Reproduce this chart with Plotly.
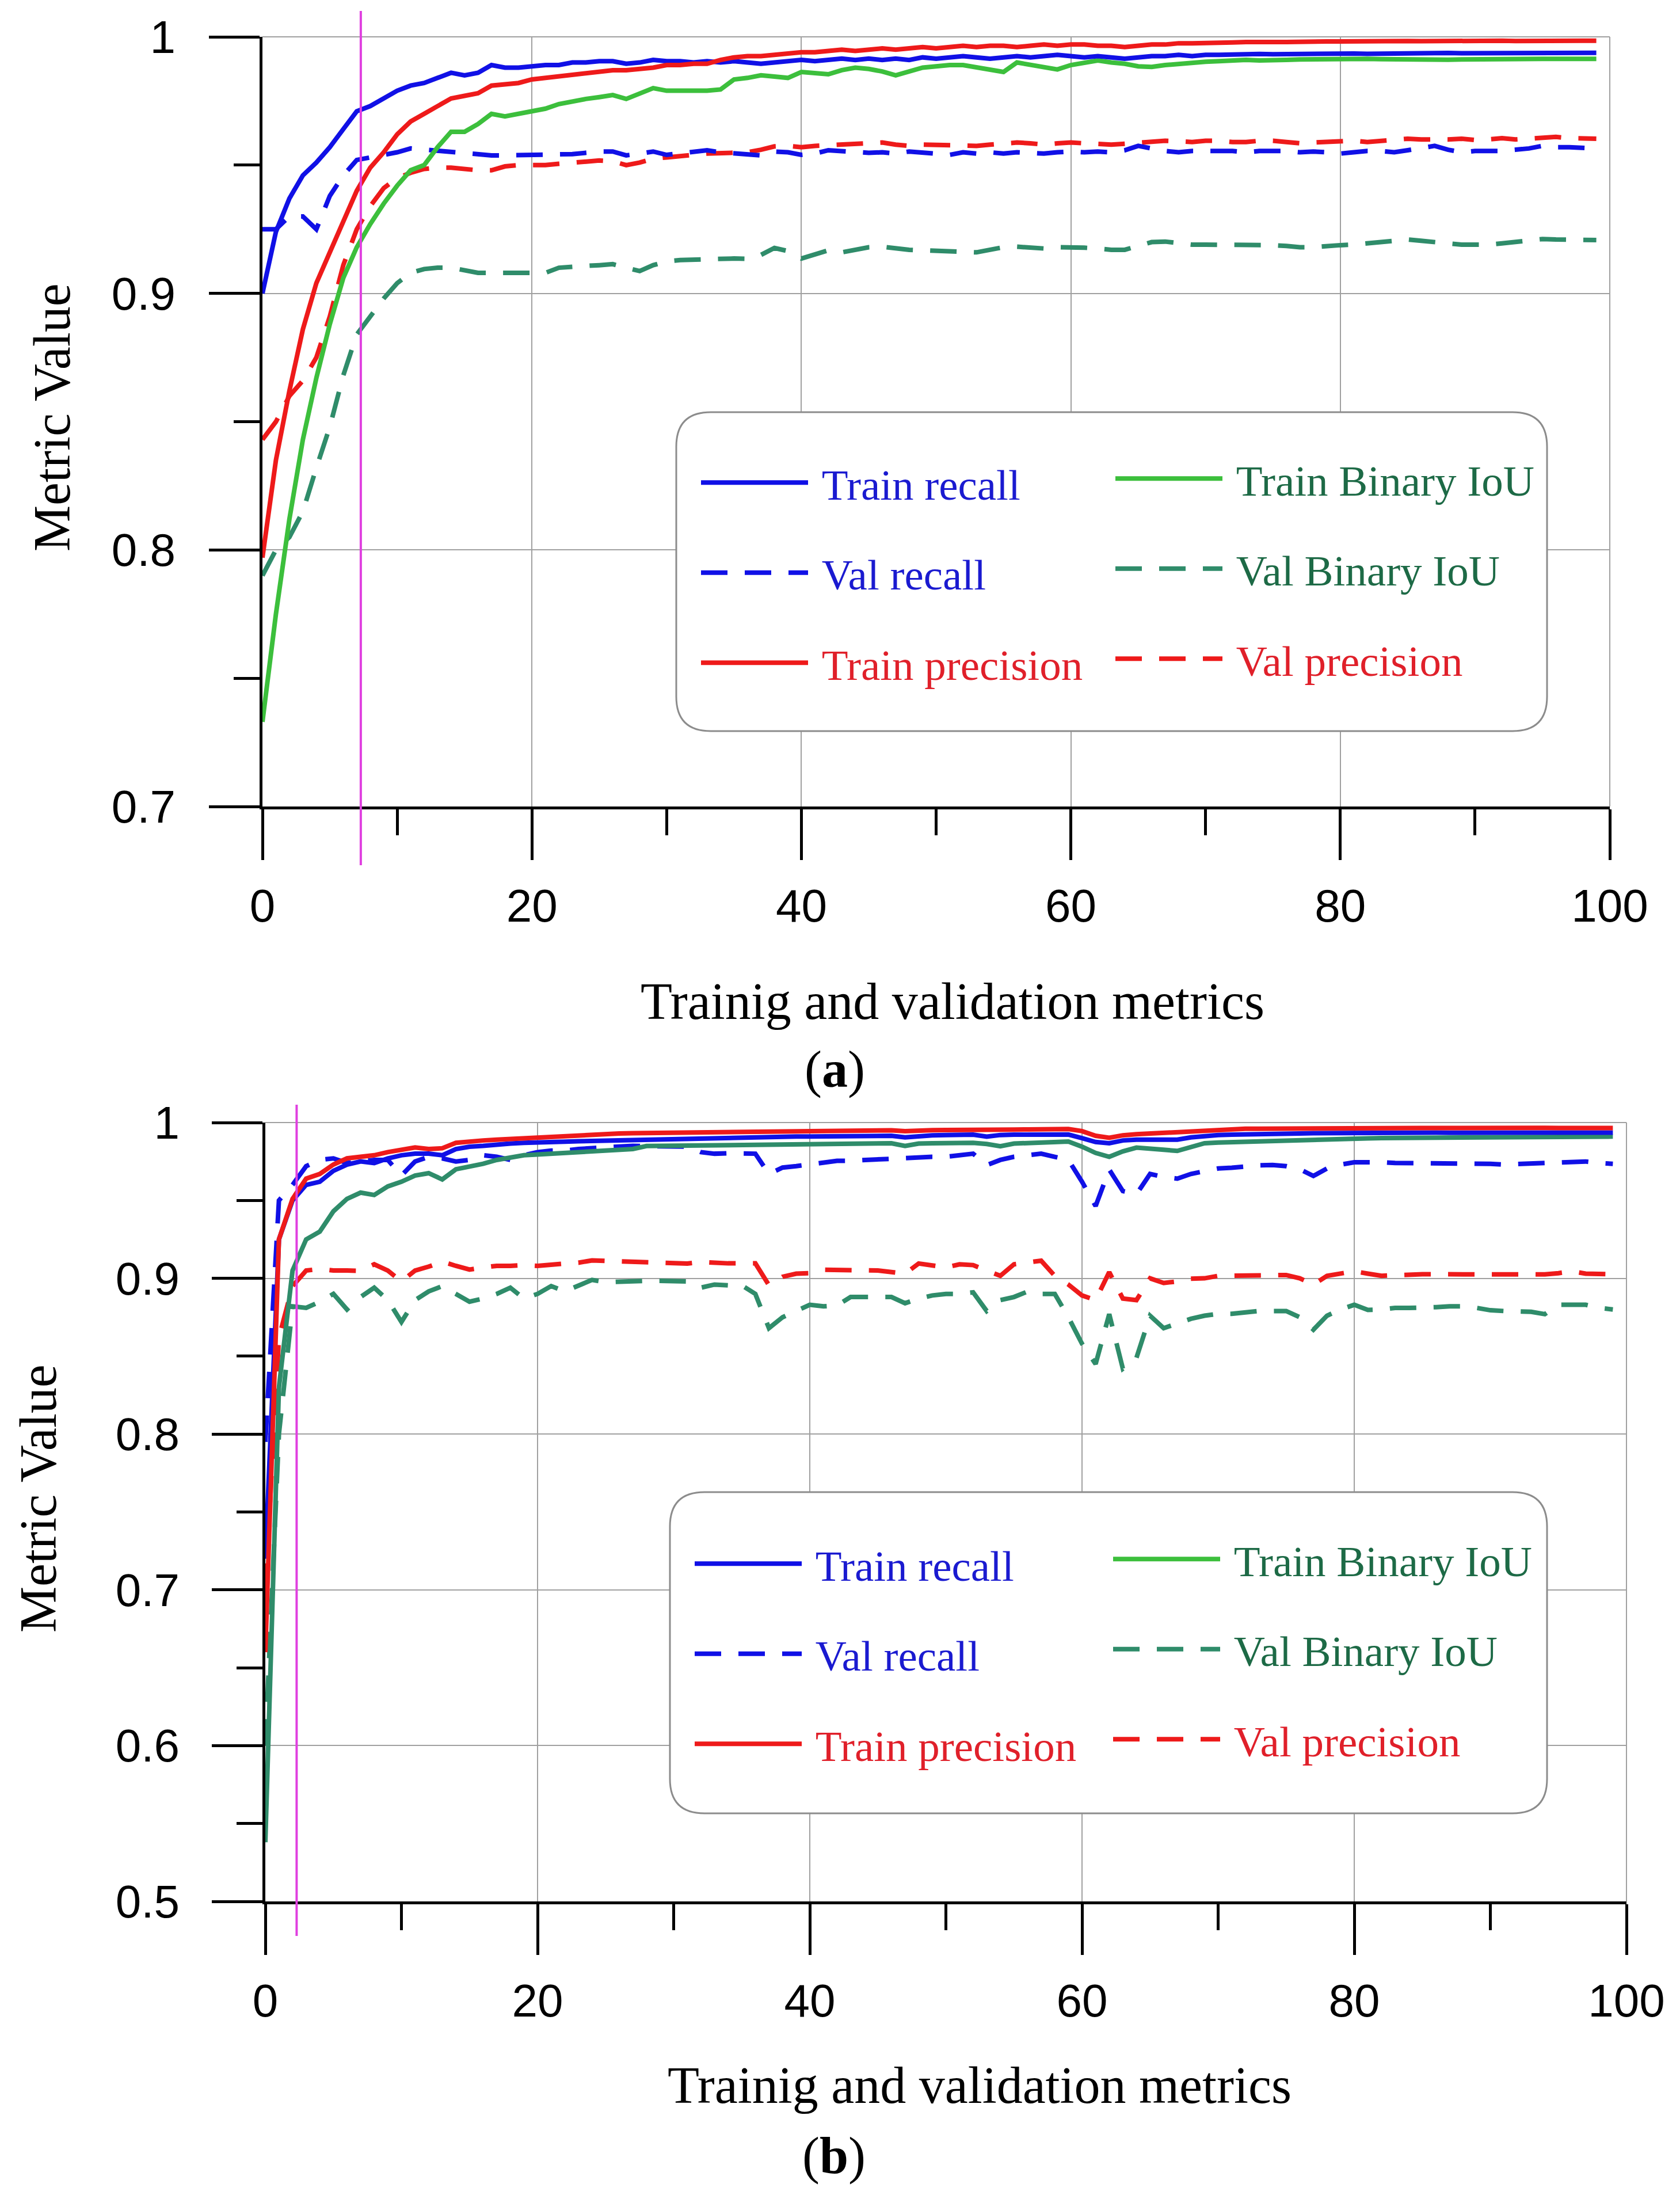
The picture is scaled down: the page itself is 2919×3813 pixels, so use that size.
import plotly.graph_objects as go

W, H = 2919, 3813

EPOCHS = list(range(100))

# ---- (a) ----
A_TRAIN_RECALL = [
    0.900, 0.924, 0.937, 0.946, 0.951, 0.957, 0.964, 0.971, 0.973, 0.976,
    0.979, 0.981, 0.982, 0.984, 0.986, 0.985, 0.986, 0.989, 0.988, 0.988,
    0.9885, 0.989, 0.989, 0.990, 0.990, 0.9905, 0.9905, 0.9895, 0.990, 0.991,
    0.9905, 0.9905, 0.990, 0.9905, 0.990, 0.9905, 0.990, 0.9895, 0.990, 0.9905,
    0.991, 0.9905, 0.991, 0.9915, 0.991, 0.9915, 0.991, 0.9915, 0.991, 0.992,
    0.9915, 0.992, 0.9925, 0.992, 0.9915, 0.992, 0.9925, 0.992, 0.9925, 0.993,
    0.9925, 0.992, 0.9925, 0.992, 0.9915, 0.992, 0.9925, 0.9925, 0.993, 0.9925,
    0.993, 0.993, 0.9932, 0.993, 0.9933, 0.9932, 0.9933, 0.9932, 0.9933, 0.9935,
    0.9933, 0.9935, 0.9934, 0.9935, 0.9936, 0.9935, 0.9936, 0.9935, 0.9937, 0.9936,
    0.9936, 0.9937, 0.9936, 0.9938, 0.9937, 0.9938, 0.9937, 0.9938, 0.9938, 0.9938,
]
A_VAL_RECALL = [
    0.925, 0.925, 0.930, 0.930, 0.925, 0.938, 0.946, 0.952, 0.953, 0.954,
    0.955, 0.9565, 0.956, 0.9555, 0.955, 0.9547, 0.954, 0.9538, 0.9538, 0.954,
    0.954, 0.9542, 0.9542, 0.9543, 0.955, 0.9553, 0.9553, 0.9538, 0.9545, 0.9553,
    0.954, 0.9545, 0.955, 0.9558, 0.955, 0.9547, 0.954, 0.9538, 0.9553, 0.955,
    0.954, 0.9545, 0.9558, 0.9555, 0.9553, 0.9548, 0.955, 0.9545, 0.9553, 0.955,
    0.9545, 0.954, 0.955, 0.9545, 0.955, 0.9545, 0.955, 0.9548, 0.9545, 0.955,
    0.9553, 0.955, 0.9553, 0.955, 0.9558, 0.9575, 0.9565, 0.9555, 0.955, 0.9555,
    0.9555, 0.9555, 0.9555, 0.955, 0.9555, 0.9555, 0.9555, 0.955, 0.9553, 0.955,
    0.9545, 0.955, 0.9555, 0.9555, 0.955, 0.9558, 0.9565, 0.9575, 0.956, 0.955,
    0.9555, 0.9555, 0.9555, 0.956, 0.9565, 0.9575, 0.957, 0.957, 0.9568, 0.9565,
]
A_TRAIN_PREC = [
    0.797, 0.835, 0.862, 0.886, 0.904, 0.916, 0.928, 0.940, 0.949, 0.955,
    0.962, 0.967, 0.970, 0.973, 0.976, 0.977, 0.978, 0.981, 0.9815, 0.982,
    0.9834, 0.984, 0.9845, 0.9855, 0.986, 0.9865, 0.987, 0.987, 0.9875, 0.988,
    0.989, 0.989, 0.9895, 0.9895, 0.991, 0.992, 0.9925, 0.9925, 0.993, 0.9935,
    0.994, 0.994, 0.9945, 0.995, 0.9945, 0.995, 0.9955, 0.995, 0.9955, 0.996,
    0.9955, 0.996, 0.9965, 0.996, 0.9965, 0.9965, 0.996, 0.9965, 0.997, 0.9965,
    0.997, 0.997, 0.9965, 0.9965, 0.996, 0.9965, 0.997, 0.997, 0.9975, 0.9975,
    0.9975, 0.9978, 0.9978, 0.998, 0.9978, 0.998, 0.998, 0.9982, 0.998, 0.9982,
    0.9982, 0.9983, 0.9982, 0.9983, 0.9983, 0.9984, 0.9983, 0.9984, 0.9983, 0.9984,
    0.9984, 0.9984, 0.9985, 0.9984, 0.9985, 0.9984, 0.9985, 0.9985, 0.9985, 0.9985,
]
A_VAL_PREC = [
    0.843, 0.850, 0.860, 0.866, 0.875, 0.891, 0.911, 0.925, 0.934, 0.941,
    0.945, 0.947, 0.9485, 0.949, 0.949, 0.9485, 0.948, 0.948, 0.9495, 0.950,
    0.950, 0.950, 0.9505, 0.951, 0.9515, 0.9518, 0.9515, 0.950, 0.951, 0.9525,
    0.953, 0.9533, 0.954, 0.9545, 0.9548, 0.9548, 0.955, 0.956, 0.9573, 0.9575,
    0.957, 0.9575, 0.9578, 0.958, 0.958, 0.9585, 0.9588, 0.958, 0.9575, 0.958,
    0.9578, 0.9575, 0.9573, 0.9575, 0.958, 0.9585, 0.9588, 0.9585, 0.958, 0.9585,
    0.9588, 0.9585, 0.9583, 0.958, 0.9583, 0.9588, 0.9593, 0.9595, 0.9593, 0.959,
    0.9595, 0.9595, 0.959, 0.959, 0.9595, 0.9595, 0.959, 0.9585, 0.9588, 0.959,
    0.9593, 0.9595, 0.959, 0.9595, 0.960, 0.9603, 0.960, 0.9598, 0.960, 0.9603,
    0.9598, 0.960, 0.9605, 0.960, 0.9603, 0.9608, 0.961, 0.9605, 0.9603, 0.9603,
]
A_TRAIN_IOU = [
    0.733, 0.775, 0.812, 0.843, 0.867, 0.888, 0.906, 0.918, 0.927, 0.935,
    0.942, 0.948, 0.950, 0.957, 0.963, 0.963, 0.966, 0.970, 0.969, 0.970,
    0.9713, 0.972, 0.9738, 0.975, 0.9758, 0.9765, 0.9773, 0.9758, 0.978, 0.980,
    0.979, 0.979, 0.9792, 0.979, 0.9795, 0.9834, 0.984, 0.985, 0.9845, 0.984,
    0.9863, 0.986, 0.9854, 0.987, 0.988, 0.9875, 0.9865, 0.985, 0.9865, 0.988,
    0.9885, 0.989, 0.989, 0.988, 0.987, 0.9863, 0.990, 0.989, 0.988, 0.9873,
    0.989, 0.990, 0.9908, 0.990, 0.9895, 0.9885, 0.9883, 0.989, 0.9895, 0.990,
    0.9903, 0.9905, 0.9908, 0.991, 0.9908, 0.9911, 0.991, 0.9912, 0.9913, 0.9914,
    0.9914, 0.9913, 0.9914, 0.9913, 0.9912, 0.9913, 0.9912, 0.9911, 0.9911, 0.9912,
    0.9913, 0.9912, 0.9913, 0.9914, 0.9913, 0.9914, 0.9914, 0.9915, 0.9914, 0.9914,
]
A_VAL_IOU = [
    0.790, 0.800, 0.805, 0.815, 0.832, 0.848, 0.868, 0.884, 0.891, 0.898,
    0.904, 0.908, 0.9095, 0.910, 0.910, 0.909, 0.908, 0.908, 0.9078, 0.908,
    0.908, 0.908, 0.910, 0.9105, 0.9107, 0.911, 0.9114, 0.910, 0.9087, 0.911,
    0.9125, 0.913, 0.9132, 0.9134, 0.9135, 0.9136, 0.9135, 0.915, 0.9177, 0.9165,
    0.9136, 0.915, 0.9168, 0.916, 0.917, 0.918, 0.9182, 0.9175, 0.917, 0.9168,
    0.9165, 0.9162, 0.916, 0.916, 0.917, 0.918, 0.9182, 0.918, 0.9175, 0.918,
    0.918, 0.9178, 0.9175, 0.917, 0.917, 0.9185, 0.920, 0.9202, 0.9195, 0.919,
    0.919, 0.919, 0.919, 0.919, 0.919, 0.9188, 0.9185, 0.918, 0.918, 0.9185,
    0.9188, 0.919, 0.9195, 0.920, 0.9205, 0.921, 0.9205, 0.920, 0.9195, 0.919,
    0.919, 0.919, 0.9195, 0.920, 0.9205, 0.9212, 0.921, 0.921, 0.921, 0.9208,
]

# ---- (b) ----
B_TRAIN_RECALL = [
    0.720, 0.925, 0.950, 0.960, 0.962, 0.969, 0.973, 0.975, 0.974, 0.977,
    0.979, 0.980, 0.980, 0.979, 0.983, 0.9845, 0.985, 0.986, 0.9865, 0.987,
    0.987, 0.9873, 0.9877, 0.988, 0.9882, 0.9885, 0.989, 0.9888, 0.9889, 0.989,
    0.9895, 0.9898, 0.990, 0.990, 0.9903, 0.9905, 0.9905, 0.9908, 0.991, 0.991,
    0.991, 0.991, 0.9912, 0.9915, 0.9915, 0.9913, 0.9915, 0.9905, 0.9915, 0.9918,
    0.992, 0.992, 0.9922, 0.991, 0.992, 0.9922, 0.9923, 0.9923, 0.9925, 0.9923,
    0.990, 0.9875, 0.9867, 0.9885, 0.989, 0.9888, 0.9885, 0.989, 0.9905, 0.9915,
    0.992, 0.9922, 0.9925, 0.9927, 0.9928, 0.993, 0.993, 0.9932, 0.9933, 0.9933,
    0.9934, 0.9933, 0.9934, 0.9934, 0.9935, 0.9934, 0.9935, 0.9934, 0.9935, 0.9935,
    0.9935, 0.9934, 0.9935, 0.9935, 0.9936, 0.9935, 0.9935, 0.9936, 0.9935, 0.9935,
]
B_VAL_RECALL = [
    0.795, 0.950, 0.960, 0.972, 0.976, 0.977, 0.974, 0.975, 0.976, 0.976,
    0.966, 0.975, 0.978, 0.977, 0.975, 0.976, 0.979, 0.978, 0.976, 0.979,
    0.981, 0.982, 0.982, 0.983, 0.9837, 0.9846, 0.9846, 0.985, 0.985, 0.9848,
    0.985, 0.9845, 0.981, 0.980, 0.9803, 0.9805, 0.980, 0.967, 0.9711, 0.972,
    0.973, 0.974, 0.9754, 0.9755, 0.976, 0.9765, 0.9768, 0.977, 0.9775, 0.978,
    0.978, 0.979, 0.980, 0.9727, 0.976, 0.978, 0.979, 0.980, 0.978, 0.976,
    0.962, 0.9464, 0.9698, 0.956, 0.954, 0.967, 0.965, 0.964, 0.967, 0.969,
    0.9705, 0.971, 0.972, 0.9725, 0.9727, 0.972, 0.970, 0.9657, 0.9705, 0.973,
    0.9745, 0.9748, 0.9745, 0.974, 0.974, 0.974, 0.974, 0.974, 0.974, 0.9738,
    0.9735, 0.973, 0.9733, 0.9735, 0.9738, 0.974, 0.9745, 0.975, 0.974, 0.9735,
]
B_TRAIN_PREC = [
    0.660, 0.925, 0.951, 0.964, 0.967, 0.973, 0.977, 0.978, 0.979, 0.981,
    0.9825, 0.984, 0.983, 0.9835, 0.987, 0.988, 0.9885, 0.989, 0.9895, 0.990,
    0.9905, 0.991, 0.9915, 0.992, 0.992, 0.9925, 0.993, 0.9932, 0.9933, 0.9935,
    0.9937, 0.9938, 0.994, 0.994, 0.9942, 0.9943, 0.9944, 0.9944, 0.9945, 0.9945,
    0.9945, 0.9946, 0.9947, 0.9948, 0.9948, 0.9949, 0.995, 0.9945, 0.995, 0.9951,
    0.9952, 0.9952, 0.9953, 0.9948, 0.9953, 0.9955, 0.9956, 0.9957, 0.9958, 0.9958,
    0.9945, 0.9915, 0.9902, 0.9918, 0.9925, 0.993, 0.9931, 0.9935, 0.9945, 0.9952,
    0.9955, 0.9958, 0.996, 0.996, 0.9961, 0.9962, 0.9962, 0.9963, 0.9963, 0.9964,
    0.9964, 0.9965, 0.9965, 0.9965, 0.9964, 0.9965, 0.9965, 0.9966, 0.9965, 0.9965,
    0.9965, 0.9966, 0.9965, 0.9965, 0.9966, 0.9965, 0.9966, 0.9966, 0.9965, 0.9965,
]
B_VAL_PREC = [
    0.700, 0.862, 0.895, 0.905, 0.906, 0.905, 0.905, 0.9048, 0.909, 0.905,
    0.898, 0.905, 0.9075, 0.9107, 0.908, 0.9056, 0.907, 0.908, 0.908, 0.9085,
    0.908, 0.909, 0.9095, 0.910, 0.9115, 0.9112, 0.911, 0.9103, 0.9103, 0.9103,
    0.910, 0.9095, 0.9105, 0.9098, 0.9096, 0.9096, 0.9096, 0.8956, 0.901, 0.903,
    0.9033, 0.9055, 0.9055, 0.9055, 0.9055, 0.905, 0.904, 0.903, 0.9095, 0.908,
    0.907, 0.909, 0.9085, 0.905, 0.9016, 0.909, 0.910, 0.9113, 0.9016, 0.896,
    0.889, 0.886, 0.904, 0.887, 0.886, 0.900, 0.897, 0.898, 0.8998, 0.900,
    0.9016, 0.9016, 0.9018, 0.902, 0.9021, 0.9021, 0.900, 0.896, 0.9016, 0.903,
    0.9045, 0.903, 0.9016, 0.902, 0.9026, 0.9026, 0.9026, 0.9026, 0.9026, 0.9026,
    0.9023, 0.902, 0.902, 0.902, 0.9025, 0.9033, 0.9045, 0.903, 0.9026, 0.9026,
]
B_TRAIN_IOU = [
    0.538, 0.830, 0.905, 0.925, 0.930, 0.943, 0.951, 0.955, 0.9535, 0.959,
    0.962, 0.966, 0.9675, 0.9635, 0.970, 0.9715, 0.9735, 0.976, 0.9775, 0.979,
    0.9795, 0.980, 0.9805, 0.981, 0.9815, 0.982, 0.9825, 0.983, 0.9849, 0.985,
    0.9852, 0.9855, 0.9856, 0.9856, 0.9858, 0.986, 0.986, 0.9862, 0.9862, 0.9863,
    0.9863, 0.9865, 0.9865, 0.9866, 0.9867, 0.9867, 0.9867, 0.985, 0.9865, 0.9867,
    0.9868, 0.9868, 0.987, 0.9862, 0.9848, 0.9865, 0.987, 0.9875, 0.988, 0.9878,
    0.9845, 0.9805, 0.978, 0.9815, 0.9839, 0.9835, 0.9825, 0.9818, 0.984, 0.9867,
    0.9872, 0.9875, 0.9877, 0.9878, 0.988, 0.9884, 0.9887, 0.989, 0.9892, 0.9895,
    0.9897, 0.9898, 0.990, 0.9901, 0.9902, 0.9903, 0.9904, 0.9904, 0.9905, 0.9906,
    0.9906, 0.9907, 0.9907, 0.9908, 0.9908, 0.9909, 0.9909, 0.991, 0.991, 0.991,
]
B_VAL_IOU = [
    0.600, 0.800, 0.882, 0.881, 0.885, 0.890, 0.880, 0.888, 0.894, 0.886,
    0.872, 0.886, 0.8916, 0.895, 0.890, 0.885, 0.887, 0.890, 0.894, 0.887,
    0.890, 0.895, 0.8916, 0.895, 0.899, 0.8975, 0.898, 0.8984, 0.8984, 0.8984,
    0.898, 0.898, 0.894, 0.896, 0.8955, 0.8955, 0.890, 0.868, 0.875, 0.879,
    0.883, 0.882, 0.8826, 0.888, 0.888, 0.888, 0.888, 0.884, 0.887, 0.889,
    0.890, 0.890, 0.891, 0.879, 0.886, 0.888, 0.8915, 0.890, 0.890, 0.875,
    0.858, 0.845, 0.877, 0.842, 0.849, 0.876, 0.868, 0.871, 0.874, 0.876,
    0.8772, 0.8772, 0.878, 0.879, 0.879, 0.879, 0.875, 0.867, 0.876, 0.880,
    0.883, 0.8797, 0.880, 0.881, 0.881, 0.881, 0.8815, 0.882, 0.882, 0.881,
    0.8795, 0.879, 0.879, 0.8785, 0.877, 0.883, 0.883, 0.883, 0.881, 0.880,
]

# epoch where the magenta marker sits in each panel
A_MARK = 7.3
B_MARK = 2.3

BLUE = '#1010e6'
RED = '#ee1a1a'
LIME = '#3cbf3c'
SEA = '#2f8c6a'
TXT_BLUE = '#1a1ad0'
TXT_GREEN = '#1d6a46'
TXT_RED = '#e0202a'
DASH = '46px,30px'
LW = 8

SANS = 'Liberation Sans'
SERIF = 'Liberation Serif'


def label(text, color):
    return '<span style="color:%s">&nbsp;%s</span>' % (color, text)


def px_x(p):
    return p / W


def px_y(p):
    return 1 - p / H


fig = go.Figure()


def add_panel(xa, ya, leg_l, leg_r, tr, vr, tp, vp, ti, vi, iou_color, dummy_iou):
    specs = [
        (vi, 'Val Binary IoU', SEA, DASH, leg_r, 2, TXT_GREEN),
        (vp, 'Val precision', RED, DASH, leg_r, 3, TXT_RED),
        (vr, 'Val recall', BLUE, DASH, leg_l, 2, TXT_BLUE),
        (ti, 'Train Binary IoU', iou_color, 'solid', leg_r, 1, TXT_GREEN),
        (tr, 'Train recall', BLUE, 'solid', leg_l, 1, TXT_BLUE),
        (tp, 'Train precision', RED, 'solid', leg_l, 3, TXT_RED),
    ]
    for vals, name, col, dash, leg, rank, tcol in specs:
        show = not (dummy_iou and name == 'Train Binary IoU')
        fig.add_trace(go.Scatter(
            x=EPOCHS, y=vals, mode='lines', xaxis=xa, yaxis=ya,
            line=dict(color=col, width=LW, dash=dash),
            name=label(name, tcol), legend=leg, legendgroup=xa + name,
            legendrank=rank, showlegend=show, hoverinfo='skip'))
        if not show:
            # legend swatch in the lighter green used by the figure's key
            fig.add_trace(go.Scatter(
                x=[None], y=[None], mode='lines', xaxis=xa, yaxis=ya,
                line=dict(color=LIME, width=LW),
                name=label(name, tcol), legend=leg, legendgroup=xa + name + 'k',
                legendrank=rank, showlegend=True))


add_panel('x', 'y', 'legend', 'legend2',
          A_TRAIN_RECALL, A_VAL_RECALL, A_TRAIN_PREC, A_VAL_PREC,
          A_TRAIN_IOU, A_VAL_IOU, LIME, False)
add_panel('x2', 'y2', 'legend3', 'legend4',
          B_TRAIN_RECALL, B_VAL_RECALL, B_TRAIN_PREC, B_VAL_PREC,
          B_TRAIN_IOU, B_VAL_IOU, SEA, True)

axis_common = dict(
    showline=True, linecolor='black', linewidth=5, automargin=False,
    ticks='outside', ticklen=88, tickwidth=5, tickcolor='black',
    showgrid=True, gridcolor='#a0a0a0', gridwidth=2, zeroline=False,
    tickfont=dict(family=SANS, size=80, color='black'),
    tick0=0,
)
x_minor = dict(dtick=10, ticklen=45, tickwidth=5, tickcolor='black', ticks='outside', showgrid=False)
y_minor = dict(dtick=0.05, ticklen=45, tickwidth=5, tickcolor='black', ticks='outside', showgrid=False)

fig.update_layout(
    width=W, height=H,
    margin=dict(l=0, r=0, t=0, b=0, autoexpand=False),
    paper_bgcolor='white', plot_bgcolor='white',
    showlegend=True,
    xaxis=dict(domain=[px_x(456), px_x(2797)], anchor='y', range=[0, 100], dtick=20,
               minor=x_minor, ticklabelstandoff=11, **axis_common),
    yaxis=dict(domain=[px_y(1401), px_y(64)], anchor='x', range=[0.7, 1.0], dtick=0.1,
               minor=y_minor, ticklabelstandoff=42, **axis_common),
    xaxis2=dict(domain=[px_x(461), px_x(2826)], anchor='y2', range=[0, 100], dtick=20,
                minor=x_minor, ticklabelstandoff=11, **axis_common),
    yaxis2=dict(domain=[px_y(3303), px_y(1950)], anchor='x2', range=[0.5, 1.0], dtick=0.1,
                minor=y_minor, ticklabelstandoff=40, **axis_common),
)

leg_common = dict(
    bgcolor='rgba(0,0,0,0)', borderwidth=0, orientation='v',
    xanchor='left', yanchor='top', itemwidth=186,
    traceorder='grouped', tracegroupgap=56,
    font=dict(family=SERIF, size=75),
    itemclick=False, itemdoubleclick=False,
)
fig.update_layout(
    legend=dict(x=px_x(1213), y=px_y(783), **leg_common),
    legend2=dict(x=px_x(1933), y=px_y(776), **leg_common),
    legend3=dict(x=px_x(1202), y=px_y(2661), **leg_common),
    legend4=dict(x=px_x(1929), y=px_y(2653), **leg_common),
)


def rounded_box(x0, y0, x1, y1, r):
    # pixel box -> paper path with rounded corners
    rx, ry = r / W, r / H
    a, b, c, d = px_x(x0), px_y(y1), px_x(x1), px_y(y0)
    return ('M %f,%f L %f,%f Q %f,%f %f,%f L %f,%f Q %f,%f %f,%f '
            'L %f,%f Q %f,%f %f,%f L %f,%f Q %f,%f %f,%f Z') % (
        a + rx, b, c - rx, b, c, b, c, b + ry, c, d - ry, c, d, c - rx, d,
        a + rx, d, a, d, a, d - ry, a, b + ry, a, b, a + rx, b)


shapes = [
    dict(type='path', xref='paper', yref='paper', layer='above',
         path=rounded_box(1175, 716, 2688, 1270, 60),
         fillcolor='white', line=dict(color='#8c8c8c', width=3)),
    dict(type='path', xref='paper', yref='paper', layer='above',
         path=rounded_box(1164, 2592, 2688, 3150, 60),
         fillcolor='white', line=dict(color='#8c8c8c', width=3)),
    dict(type='line', xref='x', yref='paper', x0=A_MARK, x1=A_MARK,
         y0=px_y(1503), y1=px_y(19), line=dict(color='#e040e0', width=4), layer='above'),
    dict(type='line', xref='x2', yref='paper', x0=B_MARK, x1=B_MARK,
         y0=px_y(3363), y1=px_y(1919), line=dict(color='#e040e0', width=4), layer='above'),
]
# thin grey frame on the top and right of each panel
for xa, ya in (('x', 'y'), ('x2', 'y2')):
    shapes.append(dict(type='line', xref=xa + ' domain', yref=ya + ' domain', x0=0, x1=1, y0=1, y1=1,
                       line=dict(color='#a0a0a0', width=2), layer='below'))
    shapes.append(dict(type='line', xref=xa + ' domain', yref=ya + ' domain', x0=1, x1=1, y0=0, y1=1,
                       line=dict(color='#a0a0a0', width=2), layer='below'))
fig.update_layout(shapes=shapes)

title_font = dict(family=SERIF, size=90, color='black')
ann = [
    dict(text='Trainig and validation metrics', x=px_x(1655), y=px_y(1740)),
    dict(text='Trainig and validation metrics', x=px_x(1702), y=px_y(3622)),
    dict(text='Metric Value', x=px_x(90), y=px_y(725), textangle=-90),
    dict(text='Metric Value', x=px_x(66), y=px_y(2603), textangle=-90),
    dict(text='(<b>a</b>)', x=px_x(1450), y=px_y(1858)),
    dict(text='(<b>b</b>)', x=px_x(1449), y=px_y(3745)),
]
for a in ann:
    a.update(xref='paper', yref='paper', showarrow=False, xanchor='center', yanchor='middle', font=title_font)
fig.update_layout(annotations=ann)

# drop the browser's default page margin so the figure sits at the page origin
fig.write_html("out.html", config={'displayModeBar': False},
               post_script="document.body.style.margin='0px';")
